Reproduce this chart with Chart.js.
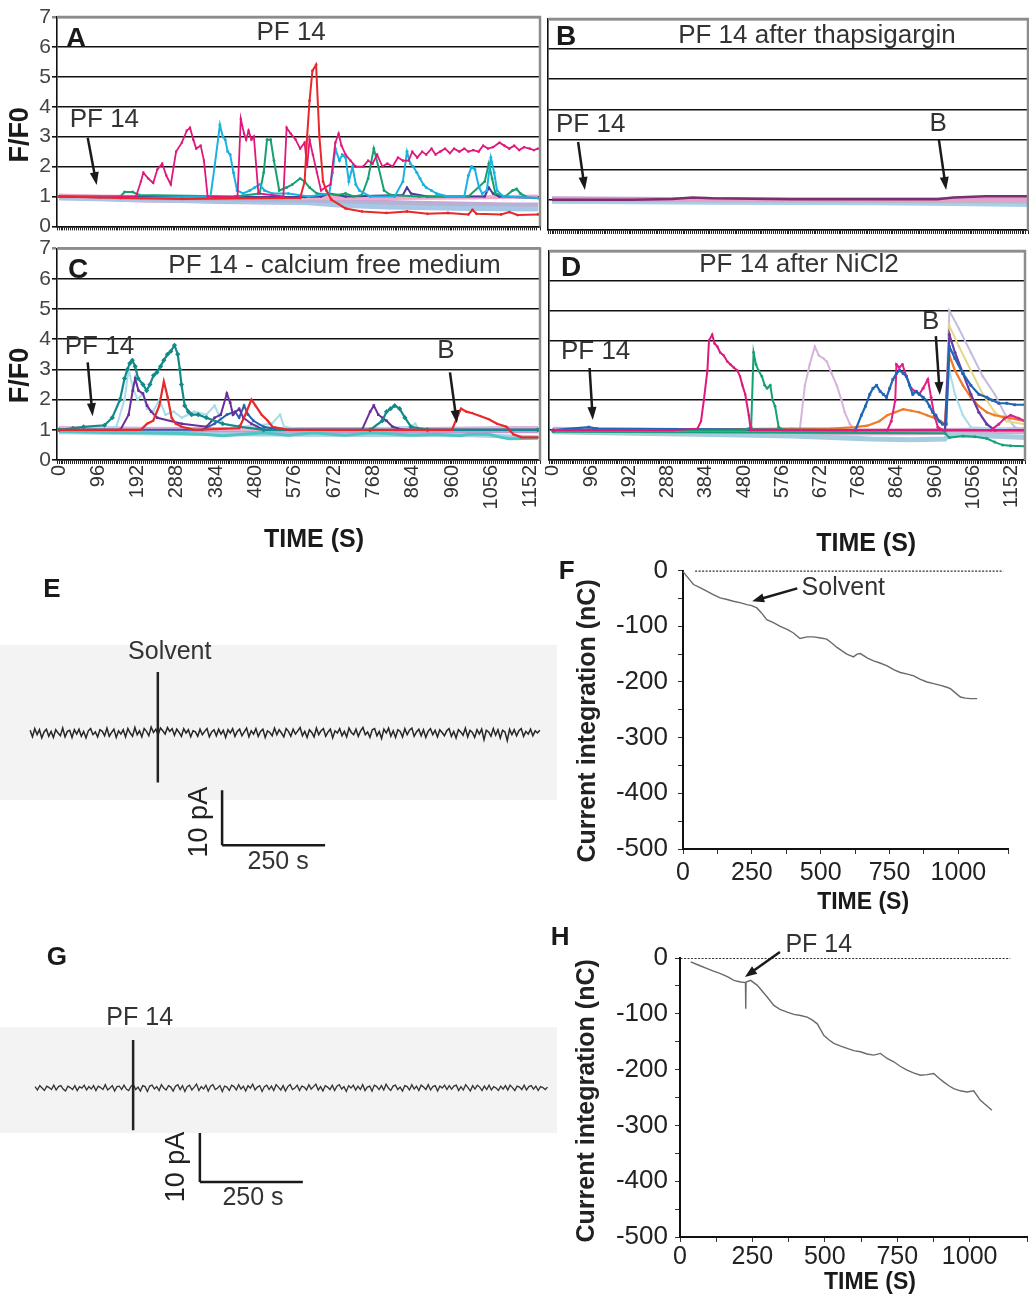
<!DOCTYPE html>
<html><head><meta charset="utf-8">
<script src="https://cdn.jsdelivr.net/npm/chart.js@4/dist/chart.umd.min.js"></script>
<style>
html,body{margin:0;padding:0;background:#fff;}
#wrap{position:relative;width:1029px;height:1301px;overflow:hidden;background:#fff;}
canvas{position:absolute;}
</style></head><body><div id="wrap">
<canvas id="cA" width="545" height="240" style="left:0;top:0"></canvas>
<canvas id="cB" width="484" height="240" style="left:545px;top:0"></canvas>
<canvas id="cC" width="545" height="325" style="left:0;top:235px"></canvas>
<canvas id="cD" width="484" height="325" style="left:545px;top:235px"></canvas>
<canvas id="cE" width="560" height="320" style="left:0;top:560px"></canvas>
<canvas id="cG" width="560" height="290" style="left:0;top:930px"></canvas>
<canvas id="cF" width="489" height="370" style="left:540px;top:545px"></canvas>
<canvas id="cH" width="489" height="383" style="left:540px;top:912px"></canvas>
</div>
<script>
// ---------------- DATA ----------------
const TIME_TICKS = [0,96,192,288,384,480,576,672,768,864,960,1056,1152];

// Panel A: PF 14 (time s, F/F0)
const A_magenta = [[0,1.0],[100,0.97],[188,1.0],[200,1.5],[206,1.8],[218,1.6],[230,1.45],[240,1.9],[252,2.1],[262,1.7],[273,1.4],[280,2.0],[286,2.5],[300,2.8],[312,3.2],[320,3.3],[328,2.9],[335,2.6],[346,2.7],[354,2.2],[363,1.0],[420,0.98],[436,1.0],[444,3.6],[452,3.1],[457,2.9],[463,3.2],[470,2.9],[476,3.0],[487,1.1],[548,1.0],[556,3.3],[566,3.1],[578,2.9],[589,2.6],[600,2.8],[606,2.0],[612,2.9],[620,2.4],[630,1.8],[640,1.2],[650,1.3],[663,1.4],[675,2.8],[683,3.1],[690,2.7],[700,2.4],[712,2.2],[725,2.0],[743,2.0],[755,2.2],[766,2.1],[777,2.4],[790,2.0],[802,2.1],[815,2.0],[828,2.3],[840,2.2],[854,2.2],[863,2.5],[875,2.3],[887,2.5],[897,2.4],[910,2.6],[920,2.4],[931,2.5],[943,2.6],[955,2.45],[965,2.6],[978,2.5],[990,2.6],[1000,2.5],[1012,2.55],[1025,2.5],[1036,2.7],[1048,2.6],[1060,2.65],[1076,2.8],[1088,2.7],[1100,2.6],[1112,2.7],[1124,2.55],[1136,2.65],[1150,2.6],[1160,2.55],[1170,2.6]];
const A_red = [[0,1.0],[150,0.95],[300,0.92],[589,0.95],[600,1.5],[606,3.0],[612,4.2],[619,5.2],[628,5.4],[636,3.0],[645,1.5],[653,1.2],[665,0.9],[700,0.6],[740,0.5],[800,0.45],[850,0.5],[900,0.42],[950,0.45],[1000,0.4],[1010,0.55],[1020,0.42],[1080,0.4],[1100,0.48],[1120,0.38],[1170,0.4]];
const A_cyan = [[0,1.0],[200,0.95],[370,1.0],[380,2.0],[393,3.4],[400,3.0],[406,2.9],[412,2.5],[418,2.4],[426,1.8],[435,1.2],[450,1.1],[466,1.2],[478,1.3],[490,1.4],[502,1.2],[521,1.1],[560,1.1],[610,1.0],[660,1.1],[668,1.8],[675,2.6],[685,2.2],[692,2.4],[700,2.3],[708,1.5],[717,2.0],[725,1.4],[734,1.2],[760,1.0],[820,1.0],[840,1.5],[850,2.5],[858,2.1],[865,2.0],[874,1.8],[882,1.6],[890,1.4],[897,1.3],[910,1.2],[922,1.1],[950,1.0],[990,1.0],[1000,1.7],[1008,2.0],[1016,1.9],[1026,1.3],[1034,1.1],[1045,1.2],[1055,2.3],[1063,1.8],[1070,1.2],[1085,1.0],[1170,0.95]];
const A_green = [[0,1.0],[150,1.0],[160,1.15],[180,1.15],[195,1.05],[430,1.0],[490,1.1],[500,1.8],[508,2.9],[517,2.9],[525,2.2],[538,1.2],[556,1.3],[570,1.4],[589,1.6],[600,1.5],[612,1.3],[630,1.1],[680,1.05],[700,1.1],[720,1.0],[740,1.05],[755,1.6],[769,2.6],[780,2.0],[794,1.2],[810,1.05],[880,1.0],[1000,1.0],[1040,1.5],[1050,2.1],[1058,1.6],[1066,1.1],[1090,1.0],[1108,1.2],[1118,1.25],[1127,1.1],[1140,1.0]];
const A_purple = [[0,1.0],[600,0.98],[640,1.0],[660,1.1],[700,1.0],[840,1.05],[850,1.3],[860,1.1],[900,1.0],[1040,1.0],[1050,1.3],[1060,1.1],[1075,1.0],[1170,0.95]];
const A_lav = [[0,1.0],[100,0.95],[200,0.9],[300,0.88],[400,0.85],[500,0.83],[600,0.82],[700,0.8],[800,0.78],[900,0.75],[1000,0.72],[1100,0.7],[1170,0.7]];
const A_pink = [[0,1.02],[200,0.98],[400,0.95],[600,0.95],[800,0.95],[1000,0.97],[1170,1.0]];
const A_lblue = [[0,0.95],[200,0.9],[400,0.85],[600,0.8],[700,0.7],[800,0.65],[900,0.62],[1000,0.6],[1170,0.58]];
const A_grey = [[0,0.98],[300,0.9],[600,0.85],[900,0.75],[1170,0.72]];

// Panel B: PF 14 after thapsigargin
const B_purple = [[0,1.0],[200,1.0],[300,1.03],[350,1.08],[400,1.05],[600,1.02],[960,1.02],[1000,1.08],[1080,1.12],[1186,1.12]];
const B_lav = [[0,1.0],[300,0.98],[600,0.97],[900,0.97],[1186,0.97]];
const B_pink = [[0,1.02],[600,1.0],[1186,1.0]];
const B_lblue = [[0,0.95],[400,0.92],[800,0.9],[1000,0.88],[1186,0.85]];
const B_grey = [[0,0.98],[500,0.96],[1186,0.93]];

// Panel C: PF 14 - calcium free medium
const C_teal = [[0,1.0],[34,1.05],[60,1.1],[111,1.15],[130,1.4],[149,2.0],[160,2.7],[167,3.0],[173,3.2],[179,3.3],[186,3.1],[193,2.7],[205,2.5],[214,2.3],[222,2.5],[231,2.8],[239,2.9],[248,3.1],[256,3.3],[265,3.5],[273,3.6],[282,3.8],[290,3.5],[295,3.0],[299,2.5],[307,1.8],[316,1.6],[324,1.5],[340,1.5],[360,1.4],[400,1.2],[440,1.1],[500,1.0],[760,1.0],[790,1.3],[800,1.6],[810,1.7],[820,1.8],[832,1.7],[845,1.4],[860,1.1],[900,1.0],[1170,1.0]];
const C_lcyan = [[0,1.0],[140,1.1],[160,2.0],[170,3.0],[180,2.4],[192,2.0],[205,2.2],[215,1.7],[230,1.6],[245,2.0],[260,1.5],[280,1.6],[300,1.4],[330,1.6],[360,1.5],[380,1.8],[400,1.2],[450,1.1],[520,1.2],[540,1.5],[550,1.1],[600,1.0],[700,1.0],[860,1.1],[870,1.2],[880,1.0],[1170,1.0]];
const C_purple = [[0,1.0],[150,1.0],[170,1.5],[180,2.3],[186,2.7],[194,2.3],[205,2.2],[215,1.8],[225,1.6],[240,1.4],[300,1.2],[360,1.1],[380,1.4],[395,1.5],[410,2.2],[418,1.9],[425,1.5],[440,1.7],[450,1.4],[470,1.2],[500,1.0],[740,1.0],[760,1.6],[769,1.8],[780,1.5],[790,1.4],[800,1.3],[815,1.1],[840,1.0],[1170,1.0]];
const C_red = [[0,1.0],[200,1.0],[215,1.2],[230,1.3],[245,1.8],[256,2.6],[265,2.1],[275,1.4],[285,1.2],[300,1.1],[330,1.0],[440,1.05],[455,1.5],[470,2.0],[480,1.8],[495,1.5],[510,1.3],[521,1.1],[560,1.0],[960,1.0],[975,1.5],[982,1.7],[995,1.6],[1010,1.55],[1030,1.45],[1050,1.35],[1070,1.2],[1093,1.1],[1110,0.85],[1130,0.75],[1170,0.75]];
const C_blue = [[0,1.0],[350,1.0],[380,1.2],[410,1.5],[430,1.6],[440,1.4],[452,1.8],[462,1.5],[475,1.3],[500,1.1],[540,1.0],[1170,1.0]];
const C_lav = [[0,1.0],[300,0.98],[600,0.97],[900,0.98],[1100,1.0],[1170,1.0]];
const C_cyan = [[0,0.95],[100,0.92],[200,0.9],[300,0.88],[350,0.85],[400,0.8],[450,0.85],[500,0.9],[560,0.82],[620,0.9],[700,0.82],[760,0.9],[800,0.88],[860,0.82],[920,0.85],[980,0.8],[1000,0.85],[1050,0.85],[1080,0.75],[1100,0.7],[1170,0.72]];
const C_pink = [[0,1.05],[600,1.0],[1170,1.05]];
const C_lblue = [[0,0.92],[400,0.85],[700,0.83],[1000,0.82],[1170,0.75]];

// Panel D: PF 14 after NiCl2
const D_magenta = [[0,1.0],[300,1.0],[363,1.05],[372,1.3],[379,2.0],[388,3.0],[392,4.0],[400,4.2],[406,3.9],[413,3.8],[420,3.6],[429,3.5],[438,3.3],[446,3.2],[454,3.1],[463,3.0],[470,2.8],[476,2.5],[483,2.2],[492,1.5],[497,1.0],[1186,1.0]];
const D_green = [[0,1.0],[480,1.0],[498,1.1],[504,3.6],[510,3.2],[516,3.0],[525,2.8],[532,2.5],[538,2.4],[546,2.5],[552,2.0],[558,1.8],[567,1.1],[580,1.0],[1186,1.0]];
const D_lilac = [[0,1.0],[620,1.0],[633,2.5],[645,3.2],[658,3.8],[668,3.5],[680,3.4],[688,3.3],[700,2.9],[713,2.5],[725,2.0],[733,1.6],[746,1.2],[760,1.0],[1186,1.0]];
const D_blue = [[0,1.0],[90,1.1],[110,1.05],[760,1.0],[775,1.5],[785,1.8],[796,2.2],[804,2.4],[813,2.5],[822,2.3],[830,2.2],[838,2.1],[846,2.4],[854,2.7],[863,2.9],[871,3.0],[880,2.9],[888,2.8],[896,2.5],[904,2.2],[913,2.3],[921,2.2],[930,2.1],[938,2.0],[946,1.8],[954,1.6],[962,1.5],[970,1.3],[979,1.2],[988,1.2],[996,3.8],[1010,3.4],[1030,2.9],[1050,2.5],[1070,2.2],[1090,2.1],[1104,2.0],[1120,1.9],[1140,1.9],[1160,1.85],[1186,1.85]];
const D_magenta2 = [[0,1.0],[840,1.0],[850,1.3],[860,2.0],[863,3.2],[870,3.1],[878,3.2],[888,2.8],[900,2.4],[910,2.3],[920,2.2],[930,2.4],[942,2.7],[950,2.1],[958,1.5],[967,1.1],[980,1.0],[1100,1.0],[1120,1.2],[1135,1.4],[1150,1.5],[1170,1.4],[1186,1.3]];
const D_orange = [[0,1.0],[300,1.02],[600,1.05],[700,1.05],[760,1.1],[790,1.15],[820,1.3],[840,1.5],[860,1.6],[880,1.7],[900,1.65],[920,1.6],[940,1.5],[960,1.4],[975,1.3],[985,1.2],[996,3.5],[1010,3.0],[1030,2.5],[1050,2.1],[1070,1.8],[1090,1.6],[1110,1.5],[1130,1.45],[1150,1.4],[1186,1.3]];
const D_grey = [[0,1.0],[985,1.0],[996,5.0],[1020,4.4],[1050,3.6],[1080,2.8],[1110,2.2],[1137,1.5],[1160,1.1],[1186,1.0]];
const D_purple = [[0,1.0],[985,1.0],[996,4.2],[1010,3.6],[1030,2.9],[1050,2.2],[1070,1.6],[1090,1.2],[1110,1.0],[1186,1.0]];
const D_yellow = [[0,1.0],[985,1.0],[996,4.5],[1020,3.8],[1050,3.0],[1080,2.2],[1110,1.6],[1140,1.3],[1186,1.2]];
const D_lcyan = [[0,1.0],[985,1.0],[996,3.0],[1010,2.2],[1030,1.5],[1050,1.1],[1186,1.0]];
const D_green2 = [[0,0.95],[985,0.9],[996,0.75],[1030,0.8],[1060,0.78],[1090,0.72],[1110,0.6],[1130,0.5],[1150,0.48],[1186,0.46]];
const D_lav = [[0,1.0],[300,0.95],[600,0.93],[900,0.95],[1186,0.98]];
const D_lblue = [[0,0.95],[200,0.9],[400,0.85],[600,0.8],[700,0.75],[800,0.7],[900,0.68],[985,0.7],[996,0.85],[1100,0.8],[1186,0.75]];
const D_pink = [[0,1.02],[500,1.0],[1186,1.0]];

// Panel E: current trace, solvent (pA), sampled every E_step s from E_start
const E_start = 61, E_step = 5.65;
const E_values = [0.5,-0.7,0.8,-0.3,0.6,-0.9,0.2,0.7,-0.6,0.3,-0.8,0.6,0.0,-0.5,0.9,-0.7,0.3,0.5,-0.8,0.6,
-0.2,0.7,-0.6,0.3,-0.9,0.4,0.8,-0.3,0.2,-0.7,0.6,0.3,-0.5,0.9,-0.6,0.1,0.7,-0.8,0.4,-0.2,
0.6,-0.7,0.8,0.0,-0.6,1.0,-0.3,0.4,-0.7,0.8,0.3,-0.5,1.1,0.1,0.7,-0.3,0.9,0.4,-0.2,1.0,
0.3,0.8,-0.4,0.7,0.1,-0.6,0.8,0.0,0.6,-0.7,0.4,0.2,-0.6,0.7,-0.3,0.3,0.8,-0.7,0.2,0.6,
-0.5,0.7,-0.2,0.5,-0.8,0.6,0.0,0.8,-0.6,0.3,0.7,-0.5,0.2,0.9,-0.7,0.4,-0.2,0.8,-0.6,0.3,
0.7,-0.8,0.4,0.1,-0.5,0.9,-0.3,0.6,0.0,-0.7,0.8,0.3,-0.6,0.7,-0.2,0.4,1.0,-0.5,0.3,-0.8,
0.6,0.1,-0.7,0.9,-0.3,0.4,0.8,-0.6,0.2,0.7,-0.9,0.4,0.0,0.8,-0.5,0.3,-0.7,0.9,0.1,-0.3,
0.7,-0.6,0.4,1.0,-0.3,0.2,-0.8,0.6,0.8,-0.5,0.3,-1.0,0.7,0.0,0.9,-0.6,0.4,-0.8,0.6,0.3,
-0.7,0.8,-0.3,0.5,0.9,-0.6,0.2,0.7,-0.5,0.6,-0.8,0.3,0.8,-0.3,0.5,-0.7,0.6,0.1,-0.5,0.4,
0.8,-0.6,0.3,-0.9,0.6,0.2,-0.4,0.9,-0.7,0.5,0.1,-0.8,0.6,-0.2,0.7,-1.2,0.5,0.2,-0.6,0.8,
-0.4,0.6,-0.9,0.5,0.2,-1.4,0.7,-0.3,0.6,-0.5,0.4,0.8,-0.6,0.3,-0.2,0.7,-0.5,0.4,0.0,0.5];
const E_marker = [[371,11.1],[371,-9.0]];
const E_scaleV = [[527,-10.4],[527,-20.4]];   // 10 pA
const E_scaleH = [[527,-20.4],[777,-20.4]];   // 250 s

// Panel F: current integration, solvent (nC)
const F_curve = [[0,-2],[20,-14],[38,-25],[60,-30],[86,-37],[110,-43],[135,-49],[160,-52],[183,-55],[210,-58],[232,-61],[250,-63],[268,-67],[285,-76],[304,-88],[330,-94],[353,-100],[380,-106],[401,-112],[425,-122],[450,-119],[474,-119],[500,-121],[522,-123],[540,-130],[559,-138],[580,-145],[595,-150],[619,-155],[632,-150],[644,-149],[670,-157],[692,-162],[715,-166],[741,-171],[765,-178],[789,-183],[815,-186],[838,-189],[860,-195],[886,-200],[910,-203],[935,-206],[955,-209],[971,-212],[990,-220],[1007,-227],[1025,-229],[1044,-230],[1068,-230]];
const F_zero = [[44,0],[1163,0]];

// Panel G: current trace, PF 14 (pA)
const G_start = 73, G_step = 5.68;
const G_values = [0.3,-0.4,0.5,0.0,-0.5,0.4,0.1,-0.3,0.6,-0.4,0.3,0.5,-0.2,-0.6,0.4,0.1,-0.3,0.5,-0.5,0.3,
0.0,0.6,-0.4,0.3,-0.2,0.5,-0.5,0.4,0.1,-0.3,0.7,-0.4,0.0,0.5,-0.6,0.3,0.4,-0.3,0.6,-0.2,
-0.5,0.4,0.7,-0.3,0.2,-0.6,0.5,0.3,-0.7,0.4,0.6,-0.2,0.3,-0.5,0.7,0.0,-0.4,0.5,0.2,-0.6,
0.4,0.7,-0.3,0.5,-0.7,0.3,0.6,-0.4,0.2,0.8,-0.5,0.3,-0.2,0.6,-0.6,0.4,0.7,-0.3,0.0,0.5,
-0.7,0.4,0.2,-0.5,0.6,0.3,-0.4,0.7,-0.2,0.4,-0.6,0.5,0.0,0.8,-0.4,0.2,0.5,-0.7,0.3,0.6,
-0.3,0.4,-0.5,0.7,0.2,-0.4,0.5,-0.6,0.3,0.7,-0.3,0.0,0.6,-0.5,0.4,0.2,-0.4,0.7,-0.2,0.3,
0.8,-0.4,0.3,-0.6,0.5,0.2,-0.3,0.6,-0.5,0.4,0.7,-0.2,0.3,-0.7,0.5,0.0,0.6,-0.4,0.4,-0.3,
0.7,-0.5,0.2,0.4,-0.6,0.6,0.3,-0.3,0.5,-0.4,0.8,0.0,-0.5,0.4,0.6,-0.3,0.2,-0.6,0.5,0.3,
-0.4,0.7,-0.2,0.4,-0.5,0.6,0.2,-0.3,0.7,-0.4,0.3,0.5,-0.6,0.4,0.0,0.6,-0.3,0.5,-0.2,0.4,
0.6,-0.5,0.3,-0.4,0.7,0.1,-0.6,0.5,-0.2,0.6,0.2,-0.5,0.4,-0.3,0.6,-0.4,0.3,0.0,-0.5,0.4,
-0.2,0.5,-0.4,0.6,0.1,-0.5,0.4,0.2,-0.3,0.6,-0.4,0.3,0.5,-0.2,0.4,-0.5,0.3,0.1,-0.3,0.2];
const G_marker = [[311,9.8],[311,-8.6]];
const G_scaleV = [[473,-9.2],[473,-19.2]];
const G_scaleH = [[473,-19.2],[723,-19.2]];

// Panel H: current integration, PF 14 (nC)
const H_curve = [[37,-7],[65,-13],[94,-19],[118,-24],[140,-28],[165,-34],[186,-40],[209,-43],[226,-44],[227,-91],[228,-43],[244,-40],[267,-49],[285,-60],[301,-70],[324,-85],[345,-92],[370,-97],[393,-101],[416,-103],[439,-106],[456,-111],[474,-118],[497,-139],[515,-147],[531,-153],[555,-158],[577,-162],[600,-166],[623,-168],[646,-172],[669,-174],[692,-171],[715,-180],[738,-186],[760,-194],[784,-201],[806,-206],[830,-210],[853,-209],[876,-207],[893,-215],[910,-222],[928,-229],[945,-234],[968,-238],[991,-240],[1014,-238],[1037,-255],[1057,-264],[1077,-273]];
const H_zero = [[2,0],[1140,0]];

// ---------------- RENDERING ----------------
const FAM = "'Liberation Sans', Arial, Helvetica, sans-serif";
Chart.defaults.font.family = FAM;

function drawArrow(ctx, x1, y1, x2, y2, lw, hl, hw) {
  const a = Math.atan2(y2 - y1, x2 - x1);
  ctx.lineWidth = lw;
  ctx.beginPath(); ctx.moveTo(x1, y1);
  ctx.lineTo(x2 - Math.cos(a) * hl * 0.7, y2 - Math.sin(a) * hl * 0.7); ctx.stroke();
  ctx.beginPath(); ctx.moveTo(x2, y2);
  ctx.lineTo(x2 - hl * Math.cos(a) + hw / 2 * Math.sin(a), y2 - hl * Math.sin(a) - hw / 2 * Math.cos(a));
  ctx.lineTo(x2 - hl * Math.cos(a) - hw / 2 * Math.sin(a), y2 - hl * Math.sin(a) + hw / 2 * Math.cos(a));
  ctx.closePath(); ctx.fill();
}

const notesPlugin = {
  id: 'notes',
  afterDraw(chart, args, opts) {
    const items = opts.items || [];
    const ctx = chart.ctx, xs = chart.scales.x, ys = chart.scales.y;
    for (const it of items) {
      ctx.save();
      ctx.fillStyle = it.color || '#1a1a1a';
      ctx.strokeStyle = it.color || '#1a1a1a';
      if (it.t === 'text') {
        const px = xs.getPixelForValue(it.x), py = ys.getPixelForValue(it.y);
        ctx.translate(px, py);
        if (it.rot) ctx.rotate(it.rot * Math.PI / 180);
        ctx.font = it.f + ' ' + FAM;
        ctx.textAlign = it.a || 'center';
        ctx.textBaseline = 'middle';
        ctx.fillText(it.s, 0, 0);
      } else if (it.t === 'arrow') {
        drawArrow(ctx, xs.getPixelForValue(it.x1), ys.getPixelForValue(it.y1),
                  xs.getPixelForValue(it.x2), ys.getPixelForValue(it.y2), it.lw || 2.5, it.hl || 13, it.hw || 9);
      }
      ctx.restore();
    }
  }
};
const framePlugin = {
  id: 'frame',
  afterDatasetsDraw(chart, args, opts) {
    if (!opts.on) return;
    const {ctx, chartArea: c} = chart;
    ctx.save();
    ctx.strokeStyle = '#8c8c8c'; ctx.lineWidth = 2.5;
    ctx.beginPath(); ctx.moveTo(c.left, c.top); ctx.lineTo(c.right, c.top); ctx.lineTo(c.right, c.bottom); ctx.stroke();
    ctx.restore();
  }
};
const bandPlugin = {
  id: 'band',
  beforeDatasetsDraw(chart, args, opts) {
    if (opts.y1 === undefined) return;
    const ys = chart.scales.y, ctx = chart.ctx;
    const t = ys.getPixelForValue(opts.y1), b = ys.getPixelForValue(opts.y2);
    ctx.save(); ctx.fillStyle = '#f3f3f3';
    ctx.fillRect(0, t, chart.width - 3, b - t);
    ctx.restore();
  }
};
Chart.register(notesPlugin, framePlugin, bandPlugin);

function ds(s) {
  return {data: s.d, borderColor: s.c, backgroundColor: s.c, borderWidth: s.w,
    pointRadius: s.r || 0, pointStyle: s.p || 'circle', pointBorderWidth: 0,
    pointBackgroundColor: s.c, borderDash: s.dash || [], tension: 0, fill: false};
}

function fluo(id, series, p) {
  new Chart(document.getElementById(id), {
    type: 'line',
    data: {datasets: series.map(ds)},
    options: {
      animation: false, responsive: false, devicePixelRatio: 1, events: [],
      layout: {padding: p.padding},
      plugins: {legend: {display: false}, tooltip: {enabled: false},
        notes: {items: p.notes}, frame: {on: true}, band: {}},
      scales: {
        x: {type: 'linear', min: p.xmin, max: p.xmax,
          afterFit: s => { s.height = p.xh; s.paddingLeft = 0; s.paddingRight = 0; },
          border: {color: '#111', width: 1.5},
          grid: {display: true, drawOnChartArea: false, drawTicks: true, tickLength: 4, color: '#222', lineWidth: 1},
          ticks: {display: p.xlabels, stepSize: 4.8, autoSkip: false, minRotation: 90, maxRotation: 90,
            padding: 1, color: '#333', font: {size: 20},
            callback: v => TIME_TICKS.some(t => Math.abs(t - v) < 0.01) ? String(Math.round(v)) : ''}
        },
        y: {type: 'linear', min: 0, max: 7,
          afterFit: s => { s.width = p.yw; },
          border: {color: '#111', width: 1.6},
          grid: {color: c => c.tick.value === 7 ? '#8c8c8c' : '#111',
                 lineWidth: c => c.tick.value === 7 ? 2.5 : 1.6,
                 drawTicks: p.ylabels, tickLength: 5},
          ticks: {display: p.ylabels, stepSize: 1, color: '#444', padding: 1, font: {size: 21}}
        }
      }
    }
  });
}

// Panel A
fluo('cA', [
  {d: A_red, c: '#e8282a', w: 2, r: 1.4},
  {d: A_magenta, c: '#e0187c', w: 1.8, r: 1.5, p: 'rect'},
  {d: A_cyan, c: '#1ab2e2', w: 2, r: 1.5},
  {d: A_green, c: '#17a070', w: 2, r: 1.4},
  {d: A_purple, c: '#4a3c9a', w: 2, r: 1.2},
  {d: A_pink, c: '#f2a8c8', w: 4},
  {d: A_grey, c: '#b4b4d2', w: 3},
  {d: A_lblue, c: '#a6c8e6', w: 5},
  {d: A_lav, c: '#c9a3d6', w: 6}
], {padding: {top: 17, right: 5, left: 0, bottom: 0}, yw: 57, xh: 10, xmin: -5, xmax: 1175,
  xlabels: false, ylabels: true,
  notes: [
    {t: 'text', x: 17, y: 6.24, s: 'A', f: 'bold 28px', a: 'left'},
    {t: 'text', x: 567, y: 6.47, s: 'PF 14', f: '26px', color: '#333'},
    {t: 'text', x: 26, y: 3.55, s: 'PF 14', f: '26px', a: 'left', color: '#333'},
    {t: 'arrow', x1: 70, y1: 2.96, x2: 92, y2: 1.38},
    {t: 'text', x: -95, y: 3.06, s: 'F/F0', f: 'bold 27px', rot: -90}
  ]});

// Panel B
fluo('cB', [
  {d: B_purple, c: '#7a3070', w: 2.5},
  {d: B_pink, c: '#e8a0c8', w: 3},
  {d: B_grey, c: '#b8b8c8', w: 3},
  {d: B_lblue, c: '#a8d0e8', w: 5},
  {d: B_lav, c: '#c4a0d4', w: 7}
], {padding: {top: 19, right: 1, left: 0, bottom: 0}, yw: 3, xh: 10, xmin: -10, xmax: 1186,
  xlabels: false, ylabels: false,
  notes: [
    {t: 'text', x: 10, y: 6.4, s: 'B', f: 'bold 28px', a: 'left'},
    {t: 'text', x: 660, y: 6.44, s: 'PF 14 after thapsigargin', f: '26px', color: '#333'},
    {t: 'text', x: 10, y: 3.48, s: 'PF 14', f: '26px', a: 'left', color: '#333'},
    {t: 'arrow', x1: 65, y1: 2.92, x2: 82, y2: 1.33},
    {t: 'text', x: 962, y: 3.52, s: 'B', f: '26px', color: '#333'},
    {t: 'arrow', x1: 964, y1: 2.99, x2: 982, y2: 1.33}
  ]});

// Panel C
fluo('cC', [
  {d: C_red, c: '#e62a2a', w: 2.2, r: 1.6, p: 'triangle'},
  {d: C_teal, c: '#138a8a', w: 2.2, r: 2.6, p: 'rectRot'},
  {d: C_purple, c: '#6a2f9a', w: 2, r: 1.8, p: 'rect'},
  {d: C_blue, c: '#2a5fb0', w: 2, r: 1.4},
  {d: C_lcyan, c: '#a8dcea', w: 2, r: 1.4},
  {d: C_pink, c: '#f4b0cc', w: 3},
  {d: C_cyan, c: '#4fc4c4', w: 3},
  {d: C_lblue, c: '#a8d0e6', w: 4},
  {d: C_lav, c: '#c29ad2', w: 7}
], {padding: {top: 13, right: 5, left: 0, bottom: 0}, yw: 57, xh: 100, xmin: -5, xmax: 1175,
  xlabels: true, ylabels: true,
  notes: [
    {t: 'text', x: 22, y: 6.27, s: 'C', f: 'bold 28px', a: 'left'},
    {t: 'text', x: 673, y: 6.44, s: 'PF 14 - calcium free medium', f: '26px', color: '#333'},
    {t: 'text', x: 14, y: 3.76, s: 'PF 14', f: '26px', a: 'left', color: '#333'},
    {t: 'arrow', x1: 70, y1: 3.23, x2: 82, y2: 1.45},
    {t: 'text', x: 945, y: 3.63, s: 'B', f: '26px', color: '#333'},
    {t: 'arrow', x1: 955, y1: 2.9, x2: 972, y2: 1.22},
    {t: 'text', x: -95, y: 2.8, s: 'F/F0', f: 'bold 27px', rot: -90},
    {t: 'text', x: 623, y: -2.64, s: 'TIME (S)', f: 'bold 25px'}
  ]});

// Panel D
fluo('cD', [
  {d: D_magenta, c: '#e0187c', w: 2, r: 1.5, p: 'rect'},
  {d: D_green, c: '#17a070', w: 2, r: 1.4},
  {d: D_blue, c: '#1f66b5', w: 2.2, r: 2, p: 'rect'},
  {d: D_magenta2, c: '#e0208a', w: 2, r: 1.5},
  {d: D_purple, c: '#6a3aa8', w: 2.2, r: 1.6},
  {d: D_orange, c: '#f07a2a', w: 2.2, r: 1.2},
  {d: D_lcyan, c: '#a8dcec', w: 2, r: 1.2},
  {d: D_yellow, c: '#e6d88a', w: 2, r: 1.2},
  {d: D_grey, c: '#c4bcdc', w: 2, r: 1.2},
  {d: D_lilac, c: '#d6b4dc', w: 2, r: 1.2},
  {d: D_green2, c: '#18a07a', w: 2, r: 1.5},
  {d: D_pink, c: '#f0a8c8', w: 3},
  {d: D_lblue, c: '#a6cce0', w: 5},
  {d: D_lav, c: '#d6a8cc', w: 7}
], {padding: {top: 16, right: 1, left: 0, bottom: 0}, yw: 3, xh: 100, xmin: -10, xmax: 1186,
  xlabels: true, ylabels: false,
  notes: [
    {t: 'text', x: 20, y: 6.43, s: 'D', f: 'bold 28px', a: 'left'},
    {t: 'text', x: 618, y: 6.53, s: 'PF 14 after NiCl2', f: '26px', color: '#333'},
    {t: 'text', x: 20, y: 3.62, s: 'PF 14', f: '26px', a: 'left', color: '#333'},
    {t: 'arrow', x1: 92, y1: 3.08, x2: 100, y2: 1.34},
    {t: 'text', x: 949, y: 4.62, s: 'B', f: '26px', color: '#333'},
    {t: 'arrow', x1: 962, y1: 4.15, x2: 972, y2: 2.18},
    {t: 'text', x: 787, y: -2.81, s: 'TIME (S)', f: 'bold 25px'}
  ]});

// Traces E and G
function trace(id, series, p) {
  new Chart(document.getElementById(id), {
    type: 'line',
    data: {datasets: series.map(ds)},
    options: {
      animation: false, responsive: false, devicePixelRatio: 1, events: [],
      layout: {padding: p.padding},
      plugins: {legend: {display: false}, tooltip: {enabled: false},
        notes: {items: p.notes}, frame: {on: false}, band: p.band},
      scales: {
        x: {type: 'linear', display: false, min: 0, max: p.xmax},
        y: {type: 'linear', display: false, min: p.ymin, max: p.ymax}
      }
    }
  });
}
const E_trace = E_values.map((v, i) => [E_start + i * E_step, v]);
const G_trace = G_values.map((v, i) => [G_start + i * G_step, v]);

trace('cE', [
  {d: E_marker, c: '#222', w: 2.5},
  {d: E_scaleV, c: '#1a1a1a', w: 2.5},
  {d: E_scaleH, c: '#1a1a1a', w: 2.5},
  {d: E_trace, c: '#262626', w: 1.5}
], {padding: {left: 5, right: 10, top: 85, bottom: 10}, xmax: 1323, ymin: -24.9, ymax: 16,
  band: {y1: 16, y2: -12.2},
  notes: [
    {t: 'text', x: 114, y: 26, s: 'E', f: 'bold 26px'},
    {t: 'text', x: 400, y: 14.7, s: 'Solvent', f: '25px', color: '#333'},
    {t: 'text', x: 473, y: -16.2, s: '10 pA', f: '27px', rot: -90, color: '#222'},
    {t: 'text', x: 663, y: -23.5, s: '250 s', f: '25px', color: '#333'}
  ]});

trace('cG', [
  {d: G_marker, c: '#222', w: 2.5},
  {d: G_scaleV, c: '#1a1a1a', w: 2.5},
  {d: G_scaleH, c: '#1a1a1a', w: 2.5},
  {d: G_trace, c: '#333', w: 1.3}
], {padding: {left: 5, right: 5, top: 90, bottom: 10}, xmax: 1335, ymin: -24.9, ymax: 13.9,
  band: {y1: 12.4, y2: -9.2},
  notes: [
    {t: 'text', x: 126, y: 26.5, s: 'G', f: 'bold 26px'},
    {t: 'text', x: 327, y: 14.3, s: 'PF 14', f: '25px', color: '#333'},
    {t: 'text', x: 417, y: -16.1, s: '10 pA', f: '27px', rot: -90, color: '#222'},
    {t: 'text', x: 602, y: -22.4, s: '250 s', f: '25px', color: '#333'}
  ]});

// Integration charts F and H
function integ(id, series, p) {
  new Chart(document.getElementById(id), {
    type: 'line',
    data: {datasets: series.map(ds)},
    options: {
      animation: false, responsive: false, devicePixelRatio: 1, events: [],
      layout: {padding: p.padding},
      plugins: {legend: {display: false}, tooltip: {enabled: false},
        notes: {items: p.notes}, frame: {on: false}, band: {}},
      scales: {
        x: {type: 'linear', min: 0, max: p.xmax,
          afterFit: s => { s.height = p.xh; s.paddingLeft = 0; s.paddingRight = 0; },
          border: {color: '#111', width: 2},
          grid: {drawOnChartArea: false, drawTicks: true, tickLength: 5, color: '#333'},
          ticks: {stepSize: 125, autoSkip: false, maxRotation: 0, padding: p.xpad, color: '#222', font: {size: 25},
            callback: v => (v % 250 === 0) ? String(v) : ''}
        },
        y: {type: 'linear', min: -500, max: 0,
          afterFit: s => { s.width = p.yw; },
          border: {color: '#111', width: 2},
          grid: {drawOnChartArea: false, drawTicks: true, tickLength: 5, color: '#333'},
          ticks: {stepSize: 50, autoSkip: false, padding: p.ypad, color: '#222', font: {size: 26},
            callback: v => (v % 100 === 0) ? String(v) : ''}
        }
      }
    }
  });
}

integ('cF', [
  {d: F_curve, c: '#6a6a6a', w: 1.4},
  {d: F_zero, c: '#333', w: 2.2, dash: [2, 1.5]}
], {padding: {top: 24, right: 21, left: 0, bottom: 0}, yw: 143, xh: 66, xmax: 1180, xpad: 4, ypad: 10,
  notes: [
    {t: 'text', x: -422, y: -1.8, s: 'F', f: 'bold 26px'},
    {t: 'text', x: 582, y: -32, s: 'Solvent', f: '25px', color: '#333'},
    {t: 'arrow', x1: 415, y1: -32, x2: 251, y2: -55, lw: 2.5, hl: 12, hw: 9},
    {t: 'text', x: 654, y: -597, s: 'TIME (S)', f: 'bold 23px'},
    {t: 'text', x: -345, y: -270, s: 'Current integration (nC)', f: 'bold 25px', rot: -90, color: '#222'}
  ]});

integ('cH', [
  {d: H_curve, c: '#6a6a6a', w: 1.4},
  {d: H_zero, c: '#333', w: 2.2, dash: [2, 1.5]}
], {padding: {top: 46, right: 2, left: 0, bottom: 0}, yw: 140, xh: 58, xmax: 1198, xpad: 0, ypad: 7,
  notes: [
    {t: 'text', x: -414, y: 35.8, s: 'H', f: 'bold 26px'},
    {t: 'text', x: 479, y: 23.3, s: 'PF 14', f: '25px', color: '#333'},
    {t: 'arrow', x1: 345, y1: 10.8, x2: 224, y2: -34, lw: 2.5, hl: 12, hw: 9},
    {t: 'text', x: 656, y: -582, s: 'TIME (S)', f: 'bold 23px'},
    {t: 'text', x: -321, y: -256, s: 'Current integration (nC)', f: 'bold 25px', rot: -90, color: '#222'}
  ]});
</script>
</body></html>
